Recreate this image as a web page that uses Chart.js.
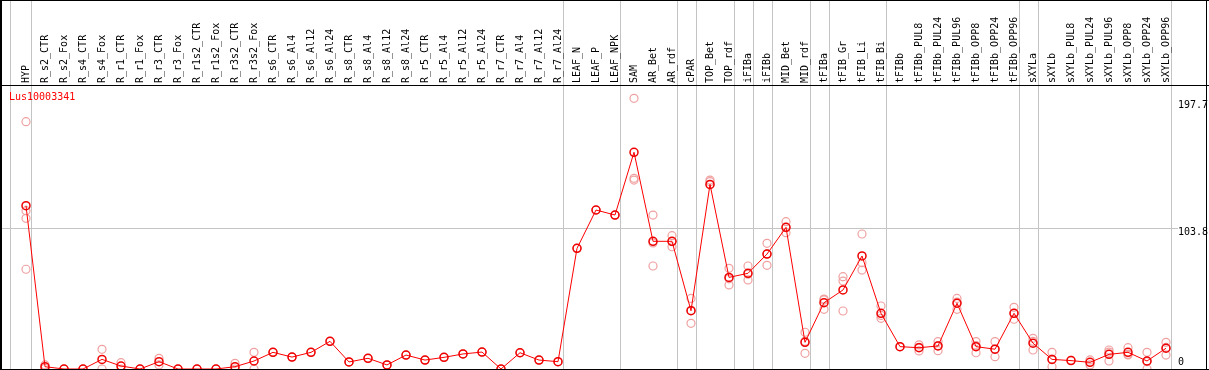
<!DOCTYPE html>
<html>
<head>
<meta charset="utf-8">
<script src="https://cdn.jsdelivr.net/npm/chart.js@4/dist/chart.umd.min.js"></script>
<style>
  html, body { margin: 0; padding: 0; background: #fff; }
  canvas { display: block; }
</style>
</head>
<body>
<canvas id="chart" width="1209" height="370"></canvas>
<script>
const geneName = 'Lus10003341';

const categories = [
  'HYP', 'R_s2_CTR', 'R_s2_Fox', 'R_s4_CTR', 'R_s4_Fox', 'R_r1_CTR', 'R_r1_Fox',
  'R_r3_CTR', 'R_r3_Fox', 'R_r1s2_CTR', 'R_r1s2_Fox', 'R_r3s2_CTR', 'R_r3s2_Fox',
  'R_s6_CTR', 'R_s6_Al4', 'R_s6_Al12', 'R_s6_Al24', 'R_s8_CTR', 'R_s8_Al4',
  'R_s8_Al12', 'R_s8_Al24', 'R_r5_CTR', 'R_r5_Al4', 'R_r5_Al12', 'R_r5_Al24',
  'R_r7_CTR', 'R_r7_Al4', 'R_r7_Al12', 'R_r7_Al24', 'LEAF_N', 'LEAF_P', 'LEAF_NPK',
  'SAM', 'AR_Bet', 'AR_rdf', 'cPAR', 'TOP_Bet', 'TOP_rdf', 'iFIBa', 'iFIBb',
  'MID_Bet', 'MID_rdf', 'tFIBa', 'tFIB_Gr', 'tFIB_Li', 'tFIB_Bi', 'tFIBb',
  'tFIBb_PUL8', 'tFIBb_PUL24', 'tFIBb_PUL96', 'tFIBb_OPP8', 'tFIBb_OPP24', 'tFIBb_OPP96',
  'sXYLa', 'sXYLb', 'sXYLb_PUL8', 'sXYLb_PUL24', 'sXYLb_PUL96', 'sXYLb_OPP8',
  'sXYLb_OPP24', 'sXYLb_OPP96'
];

// mean expression per sample
const means = [
  120.5, 1.7, 0, 0, 7.1, 2.2, 0,
  5.4, 0, 0, 0, 1.7, 5.9,
  12.3, 8.8, 12.3, 20.4, 5.2, 7.9,
  3.0, 10.3, 6.6, 8.6, 11.1, 12.5,
  0, 12.0, 6.6, 5.4, 89.0, 117.3, 113.6,
  159.9, 94.2, 94.2, 43.0, 136.2, 67.6, 70.6, 84.8,
  104.5, 19.7, 48.9, 58.3, 83.4, 41.1, 16.5,
  15.7, 17.0, 48.5, 16.5, 14.6, 41.1,
  19.0, 7.1, 6.2, 4.9, 10.8, 12.3,
  5.9, 15.3
];

// individual replicates per sample
const replicates = [
  [182.5, 116.8, 111.2, 73.6], [3.0, 0.5], [0], [0], [14.5, 0], [4.7, 0], [0],
  [7.9, 3.0], [0], [0], [0], [4.2, 0], [12.3, 0],
  [12.3], [8.8], [12.3], [20.4], [5.2], [7.9],
  [3.0], [10.3], [6.6], [8.6], [11.1], [12.5],
  [0], [12.0], [6.6], [5.4], [89.0], [117.3], [113.6],
  [199.7, 140.7, 139.4], [113.6, 76.0, 93.0], [98.4, 90.2, 94.0], [52.1, 33.7, 43.2],
  [138.2, 139.4, 136.0], [74.3, 62.0, 66.5], [76.0, 65.7, 70.0], [92.7, 76.5, 85.0],
  [108.7, 100.6, 104.2], [27.1, 11.6, 20.4], [51.6, 44.0, 51.0], [68.1, 64.9, 42.8],
  [99.6, 78.4, 73.0], [46.5, 37.4, 39.5], [16.5],
  [17.8, 13.3, 16.0], [20.2, 13.5, 17.3], [52.1, 44.0, 49.4], [20.2, 12.0, 17.3],
  [20.2, 9.1, 14.6], [45.5, 36.7, 41.1],
  [22.6, 14.0, 20.4], [12.3, 1.7, 7.3], [6.4], [3.0, 6.7], [14.0, 5.9, 12.5],
  [15.7, 10.8, 10.4], [12.3, 0, 5.4], [19.7, 10.3, 15.9]
];

// index of the last sample in each group (a separator is drawn after it)
const groupEnds = [0, 28, 31, 34, 35, 37, 38, 39, 41, 42, 45, 52, 53, 60];
const yTickValues = [197.7, 103.8, 0];
const yMax = 208.8;

const replicatePoints = [];
replicates.forEach((vals, i) => {
  vals.forEach(v => replicatePoints.push({ x: categories[i], y: v }));
});

const MONO = "'DejaVu Sans Mono', 'Liberation Mono', monospace";

const framePlugin = {
  id: 'frame',
  beforeDraw(chart) {
    const { ctx, width, height } = chart;
    const x = chart.scales.x;
    const y = chart.scales.y;
    ctx.save();
    ctx.fillStyle = '#fff';
    ctx.fillRect(0, 0, width, height);
    ctx.fillStyle = '#c4c4c4';
    const seps = [x.getPixelForValue(0) - 16].concat(groupEnds.map(i => x.getPixelForValue(i) + 4.5));
    seps.forEach(px => ctx.fillRect(Math.round(px), 0, 1, height));
    ctx.fillRect(0, Math.round(y.getPixelForValue(103.8)), 1178, 1);
    ctx.restore();
  },
  afterDraw(chart) {
    const { ctx, width, height } = chart;
    const y = chart.scales.y;
    ctx.save();
    ctx.fillStyle = '#000';
    ctx.fillRect(0, 0, width, 1);
    ctx.fillRect(0, 85, width, 1);
    ctx.fillRect(0, 0, 2, height);
    ctx.fillRect(1206, 0, 1, height);
    ctx.fillRect(0, 369, width, 1);

    ctx.font = '10px ' + MONO;
    ctx.textAlign = 'left';
    ctx.textBaseline = 'middle';
    yTickValues.forEach(v => {
      const py = y.getPixelForValue(v);
      ctx.fillText(String(v), 1178, v === 0 ? py - 7 : py + 4.5);
    });

    ctx.fillStyle = '#ff0000';
    ctx.fillText(geneName, 9, 97);
    ctx.restore();
  }
};

new Chart(document.getElementById('chart'), {
  type: 'line',
  data: {
    labels: categories,
    datasets: [
      {
        label: geneName,
        data: means,
        borderColor: '#ff0000',
        borderWidth: 1,
        tension: 0,
        pointRadius: 4,
        pointBorderWidth: 1.5,
        pointBorderColor: '#ee0000',
        pointBackgroundColor: 'rgba(0,0,0,0)'
      },
      {
        label: 'replicates',
        data: replicatePoints,
        showLine: false,
        pointRadius: 4,
        pointBorderWidth: 1.2,
        pointBorderColor: '#f0a0a0',
        pointBackgroundColor: 'rgba(0,0,0,0)'
      }
    ]
  },
  options: {
    responsive: false,
    animation: false,
    layout: { autoPadding: false, padding: { left: 16.5, right: 33.5, top: 0, bottom: 1 } },
    plugins: {
      legend: { display: false },
      tooltip: { enabled: false },
      title: { display: false }
    },
    scales: {
      x: {
        type: 'category',
        position: 'top',
        offset: true,
        grid: { display: false, drawTicks: false },
        border: { display: false },
        ticks: {
          autoSkip: false,
          maxRotation: 90,
          minRotation: 90,
          padding: 3,
          labelOffset: 12.5,
          color: '#000',
          font: { family: MONO, size: 10 }
        },
        afterFit(scale) { scale.height = 86; }
      },
      y: {
        display: false,
        min: 0,
        max: yMax
      }
    }
  },
  plugins: [framePlugin]
});
</script>
</body>
</html>
